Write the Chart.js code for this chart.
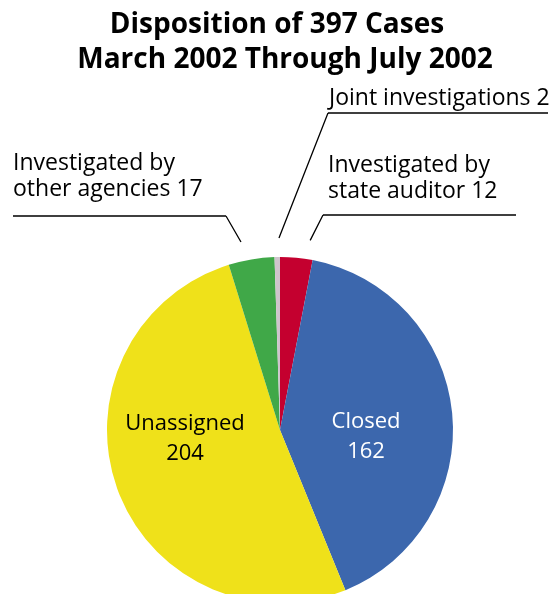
<!DOCTYPE html>
<html lang="en">
<head>
  <meta charset="UTF-8">
  <title>Disposition of 397 Cases</title>
  <script src="https://cdn.jsdelivr.net/npm/chart.js"></script>
  <style>
    html, body { margin: 0; padding: 0; background: #fff; overflow: hidden; }
    .wrap { position: relative; width: 553px; height: 612px; }
  </style>
</head>
<body>
  <div class="wrap"><canvas id="pieChart"></canvas></div>

  <script>
    // data, clockwise from 12 o'clock
    const categories = ['Investigated by state auditor', 'Closed', 'Unassigned', 'Investigated by other agencies', 'Joint investigations'];
    const caseCounts = [12, 162, 204, 17, 2];
    const sliceColors = ['#c4002f', '#3c67ad', '#efe11a', '#40a848', '#cfc4cc'];
    const titleLines = ['Disposition of 397 Cases', 'March 2002 Through July 2002'];

    const FONT = '"Open Sans", "Noto Sans", sans-serif';

    // inside labels: baseline offset from the pie centre
    const insideLabels = {
      1: { lines: ['Closed', '162'], dx: 86, dy: -2, color: '#fff' },
      2: { lines: ['Unassigned', '204'], dx: -95, dy: 0, color: '#000' }
    };
    // outside labels: text block + underline, leader to the slice edge
    const outsideLabels = {
      0: { lines: ['Investigated by', 'state auditor 12'], x: 328, y: 172, line: [323, 516, 215], from: 323, tipDeg: 3.6 },
      3: { lines: ['Investigated by', 'other agencies 17'], x: 13, y: 170, line: [13, 226, 216], from: 226, tipDeg: -2.2 },
      4: { lines: ['Joint investigations 2'], x: 329, y: 105, line: [328, 548, 113], from: 328, tipDeg: 0.6 }
    };

    const labelPlugin = {
      id: 'labelPlugin',
      afterDraw(chart) {
        const ctx = chart.ctx;
        const arcs = chart.getDatasetMeta(0).data;
        const cx = arcs[0].x, cy = arcs[0].y, r = arcs[0].outerRadius;
        ctx.save();

        // title
        ctx.fillStyle = '#000';
        ctx.textAlign = 'center';
        ctx.textBaseline = 'alphabetic';
        ctx.font = 'bold 28px ' + FONT;
        ctx.fillText(titleLines[0], 277, 33);
        ctx.fillText(titleLines[1], 285, 68);

        // labels inside slices
        ctx.font = '22px ' + FONT;
        Object.keys(insideLabels).forEach(i => {
          const l = insideLabels[i];
          ctx.fillStyle = l.color;
          l.lines.forEach((t, k) => ctx.fillText(t, cx + l.dx, cy + l.dy + k * 30));
        });

        // labels outside with leader lines
        ctx.textAlign = 'left';
        ctx.font = '23px ' + FONT;
        ctx.strokeStyle = '#000';
        ctx.lineWidth = 1.3;
        Object.keys(outsideLabels).forEach(i => {
          const l = outsideLabels[i];
          const a = arcs[i];
          ctx.fillStyle = '#000';
          l.lines.forEach((t, k) => ctx.fillText(t, l.x, l.y + k * 26));
          const mid = (a.startAngle + a.endAngle) / 2 + l.tipDeg * Math.PI / 180;
          const tx = cx + (r + 19) * Math.cos(mid);
          const ty = cy + (r + 19) * Math.sin(mid);
          ctx.beginPath();
          ctx.moveTo(l.line[0], l.line[2]);
          ctx.lineTo(l.line[1], l.line[2]);
          ctx.moveTo(l.from, l.line[2]);
          ctx.lineTo(tx, ty);
          ctx.stroke();
        });
        ctx.restore();
      }
    };

    new Chart(document.getElementById('pieChart'), {
      type: 'pie',
      data: {
        labels: categories,
        datasets: [{
          data: caseCounts,
          backgroundColor: sliceColors,
          borderWidth: 0
        }]
      },
      options: {
        responsive: true,
        maintainAspectRatio: false,
        animation: false,
        layout: { padding: { left: 107, right: 100, top: 257, bottom: 9 } },
        plugins: {
          legend: { display: false },
          tooltip: { enabled: false },
          title: { display: false }
        }
      },
      plugins: [labelPlugin]
    });
  </script>
</body>
</html>
